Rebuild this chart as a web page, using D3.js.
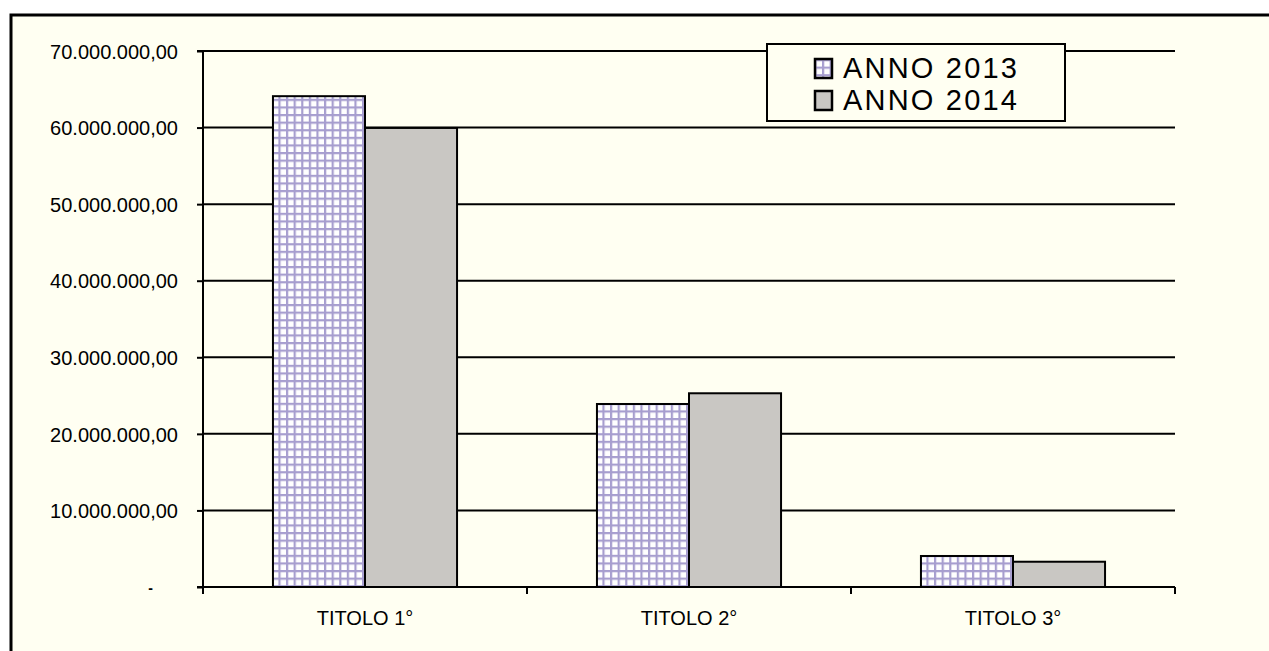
<!DOCTYPE html>
<meta charset="utf-8">
<style>
body { margin: 0; background: #fff; }
text { font-family: "Liberation Sans", Arial, sans-serif; fill: #000; }
</style>
<svg width="1269" height="651"></svg>
<script src="https://d3js.org/d3.v7.min.js"></script>
<script>
// categories and series
var categories = ["TITOLO 1°", "TITOLO 2°", "TITOLO 3°"];
var seriesNames = ["ANNO 2013", "ANNO 2014"];
var anno2013 = [64100000, 23900000, 4050000];
var anno2014 = [59950000, 25300000, 3300000];
var yTicks = [0, 10000000, 20000000, 30000000, 40000000, 50000000, 60000000, 70000000];

var svg = d3.select("svg");

// chart area background + outer frame
svg.append("rect").attr("x", 11).attr("y", 15).attr("width", 1270).attr("height", 650)
  .attr("fill", "#fffff2").attr("stroke", "#000").attr("stroke-width", 3);

var defs = svg.append("defs");
var pat = defs.append("pattern").attr("id", "grid13").attr("patternUnits", "userSpaceOnUse")
  .attr("width", 7.6).attr("height", 7.6).attr("x", 273).attr("y", 0);
pat.append("rect").attr("width", 7.6).attr("height", 7.6).attr("fill", "#fff");
pat.append("rect").attr("width", 2.2).attr("height", 7.6).attr("fill", "#a79ecf");
pat.append("rect").attr("width", 7.6).attr("height", 2.2).attr("fill", "#a79ecf");

var x0 = 203, x1 = 1175, yTop = 51, yBot = 587;

var x = d3.scaleBand().domain(categories).range([x0, x1]).paddingInner(0).paddingOuter(0);
var y = d3.scaleLinear().domain([0, 70000000]).range([yBot, yTop]);
var xs = d3.scaleBand().domain(seriesNames).range([0, x.bandwidth()])
  .paddingInner(0).paddingOuter(0.76);

function fmt(v) {
  if (v === 0) return "-";
  var s = d3.format(",.2f")(v);
  return s.replace(/,/g, "#").replace(".", ",").replace(/#/g, ".");
}

// gridlines
svg.append("g").selectAll("line").data(yTicks.slice(1)).enter().append("line")
  .attr("x1", x0).attr("x2", x1)
  .attr("y1", function(d) { return y(d); }).attr("y2", function(d) { return y(d); })
  .attr("stroke", "#000").attr("stroke-width", 2);

// y axis
var yAxis = d3.axisLeft(y).tickValues(yTicks).tickSize(6).tickPadding(19).tickFormat(fmt);
var gy = svg.append("g").attr("transform", "translate(" + x0 + ",0)").call(yAxis);
gy.select(".domain").attr("stroke", "#000").attr("stroke-width", 2).attr("d", "M-6," + yTop + "H0V" + yBot);
gy.selectAll(".tick line").attr("stroke", "#000").attr("stroke-width", 2);
gy.selectAll(".tick text").style("font-size", "20px").attr("fill", "#000").attr("dy", "0.36em");
gy.selectAll(".tick").filter(function(d) { return d === 0; }).select("text")
  .attr("x", -50).style("font-weight", "bold").style("font-size", "14px");

// bars
var data = categories.map(function(c, i) { return [anno2013[i], anno2014[i]]; });
var g = svg.append("g").selectAll("g").data(data).enter().append("g")
  .attr("transform", function(d, i) { return "translate(" + x(categories[i]) + ",0)"; });
g.selectAll("rect").data(function(d) { return d; }).enter().append("rect")
  .attr("x", function(d, i) { return xs(seriesNames[i]); })
  .attr("width", xs.bandwidth())
  .attr("y", function(d) { return y(d); })
  .attr("height", function(d) { return yBot - y(d); })
  .attr("fill", function(d, i) { return i === 0 ? "url(#grid13)" : "#c9c7c3"; })
  .attr("stroke", "#000").attr("stroke-width", 2);

// x axis
var xAxis = d3.axisBottom(x).tickSize(0).tickPadding(24);
var gx = svg.append("g").attr("transform", "translate(0," + yBot + ")").call(xAxis);
gx.select(".domain").attr("stroke", "#000").attr("stroke-width", 2).attr("d", "M197,0H" + x1);
gx.selectAll(".tick text").style("font-size", "20px").attr("fill", "#000");
svg.append("g").selectAll("line").data(x.domain().concat(["end"])).enter().append("line")
  .attr("x1", function(d) { return d === "end" ? x1 : x(d); })
  .attr("x2", function(d) { return d === "end" ? x1 : x(d); })
  .attr("y1", yBot).attr("y2", yBot + 7)
  .attr("stroke", "#000").attr("stroke-width", 2);

// legend
var lg = svg.append("g").attr("transform", "translate(767,44)");
lg.append("rect").attr("width", 298).attr("height", 77)
  .attr("fill", "#fffff2").attr("stroke", "#000").attr("stroke-width", 2);
var items = lg.selectAll("g").data(seriesNames).enter().append("g")
  .attr("transform", function(d, i) { return "translate(48," + (15 + i * 32) + ")"; });
items.append("rect").attr("width", 17).attr("height", 19)
  .attr("fill", function(d, i) { return i === 0 ? "url(#grid13)" : "#c9c7c3"; })
  .attr("stroke", "#000").attr("stroke-width", 2.5);
items.append("text").attr("x", 28).attr("y", 19).style("font-size", "29px")
  .style("letter-spacing", "2.2px").text(function(d) { return d; });
</script>
